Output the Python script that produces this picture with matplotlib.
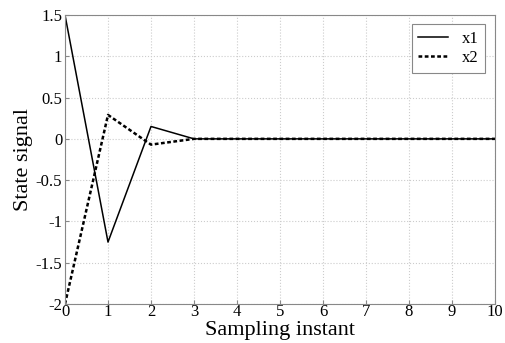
import matplotlib.pyplot as plt
import numpy as np

# Sampling instants and the two state trajectories
k = np.arange(0, 11)
x1 = [1.5, -1.25, 0.15, 0.0, 0, 0, 0, 0, 0, 0, 0]
x2 = [-2.0, 0.29, -0.07, 0.0, 0, 0, 0, 0, 0, 0, 0]

plt.rcParams["font.family"] = ["Liberation Serif", "DejaVu Serif"]

fig = plt.figure(figsize=(5.05, 3.43), dpi=100)
ax = fig.add_axes([65 / 505, 39 / 343, 430 / 505, 289 / 343])

ax.plot(k, x1, color="black", lw=1.1, label="x1")
ax.plot(k, x2, color="black", lw=1.8, ls=(0, (1.5, 1)), label="x2")

ax.set_xlim(0, 10)
ax.set_ylim(-2, 1.5)
ax.set_xticks(range(0, 11))
ax.set_yticks(np.arange(-2, 1.51, 0.5))
ax.set_yticklabels(["-2", "-1.5", "-1", "-0.5", "0", "0.5", "1", "1.5"])
ax.grid(True, color="#cccccc", ls=":", lw=0.8)
for s in ax.spines.values():
    s.set_color("#888888")
    s.set_linewidth(0.8)
ax.tick_params(direction="in", length=3, color="#888888", labelsize=12, pad=2)
ax.tick_params(axis="x", pad=0)

ax.set_xlabel("Sampling instant", fontsize=16, labelpad=1)
ax.set_ylabel("State signal", fontsize=16, labelpad=2)

leg = ax.legend(loc="upper right", fontsize=12, fancybox=False, framealpha=1,
                edgecolor="#888888", handlelength=1.8, borderpad=0.4,
                labelspacing=0.2, borderaxespad=0,
                bbox_to_anchor=(0.977, 0.969))
leg.get_frame().set_linewidth(0.8)

fig.savefig("out.png", dpi=100)
